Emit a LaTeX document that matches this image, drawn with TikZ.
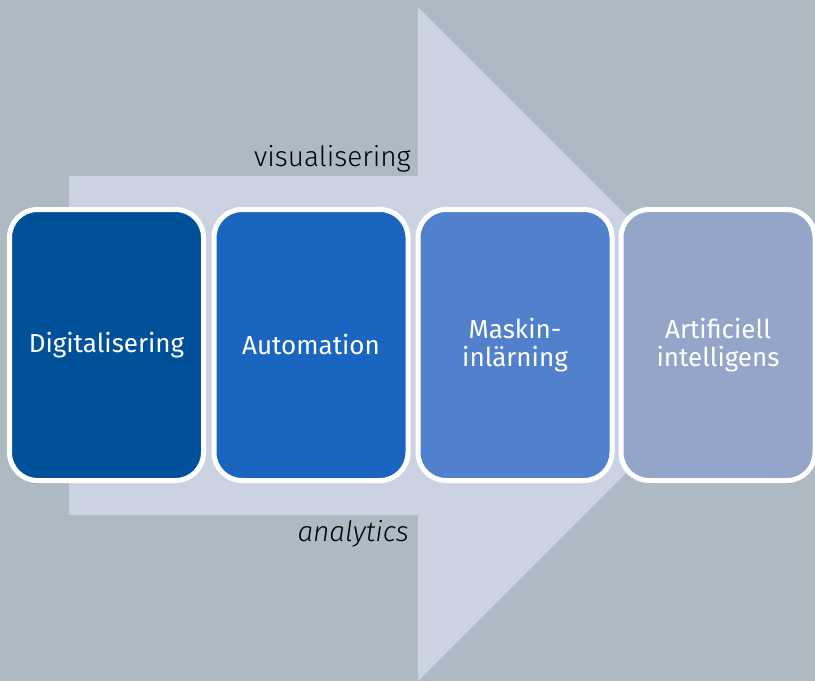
\documentclass[tikz,border=0pt]{standalone}
\usepackage{fontspec}
\setmainfont{Fira Sans}
\newfontfamily\lightfont{Fira Sans Light}
\definecolor{bgc}{RGB}{173,186,196}
\definecolor{arrowc}{RGB}{203,211,226}
\definecolor{boxa}{RGB}{0,81,154}
\definecolor{boxb}{RGB}{26,101,192}
\definecolor{boxc}{RGB}{81,129,205}
\definecolor{boxd}{RGB}{148,165,201}
\begin{document}
\begin{tikzpicture}[x=1pt,y=-1pt,
  stage/.style={draw=white,line width=5pt,rounded corners=28pt,minimum width=194pt,minimum height=271pt,
    text=white,font=\fontsize{26}{28}\selectfont,align=center,inner sep=0pt},
  lbl/.style={text=black,font=\lightfont\fontsize{28}{30}\selectfont,anchor=base east,inner sep=0pt}]
\fill[bgc] (0,0) rectangle (815,681);
\useasboundingbox (0,0) rectangle (815,681);
\fill[arrowc] (69,176) -- (418,176) -- (418,7) -- (755,344) -- (418,681) -- (418,515) -- (69,515) -- cycle;
\node[stage,fill=boxa] (s1) at (106.5,345) {Digitalisering};
\node[stage,fill=boxb] (s2) at (311,345) {Automation};
\node[stage,fill=boxc] (s3) at (515,345) {Maskin-\\inlärning};
\node[stage,fill=boxd] (s4) at (718,345) {Artificiell\\intelligens};
\node[lbl] (vis) at (411,166) {visualisering};
\node[lbl,font=\lightfont\itshape\fontsize{28}{30}\selectfont] (ana) at (409,541) {analytics};
\end{tikzpicture}
\end{document}
